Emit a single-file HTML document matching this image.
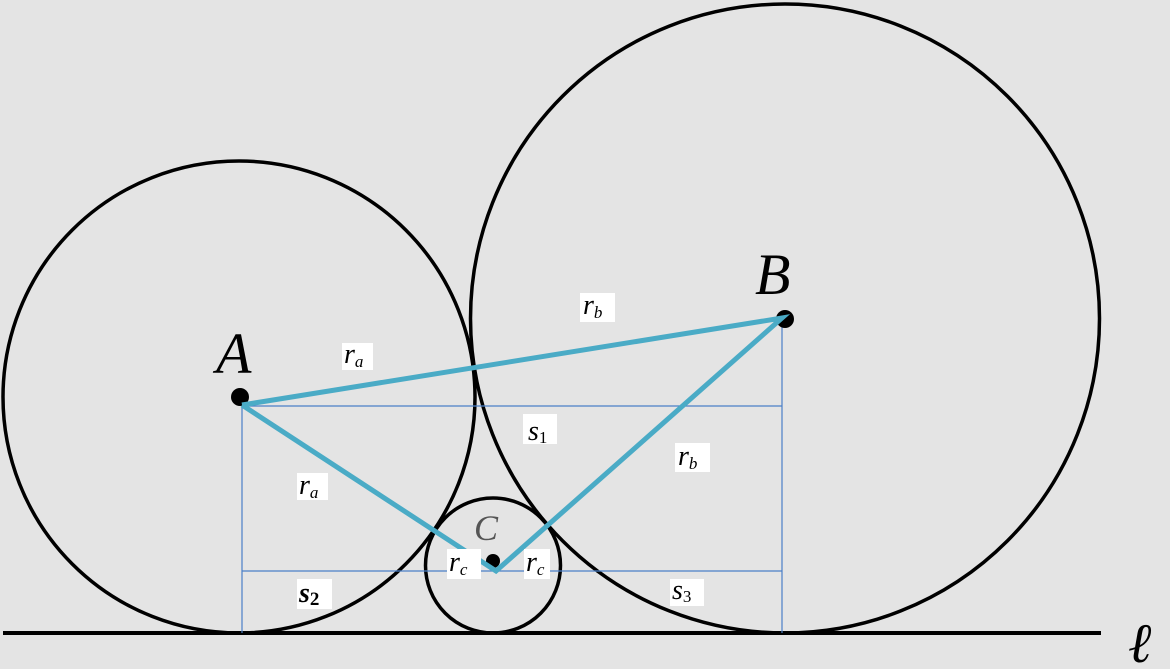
<!DOCTYPE html>
<html><head><meta charset="utf-8"><style>
html,body{margin:0;padding:0;background:#e4e4e4;}
svg{display:block;}
.lb{font-family:"Liberation Serif",serif;font-style:italic;fill:#000;}
</style></head><body>
<svg width="1170" height="669" viewBox="0 0 1170 669" xmlns="http://www.w3.org/2000/svg">
<rect width="1170" height="669" fill="#e4e4e4"/>
<g fill="none" stroke="#000" stroke-width="3.5">
<circle cx="239" cy="397" r="236"/>
<circle cx="785" cy="318.5" r="314.5"/>
<circle cx="493" cy="565.5" r="67.5"/>
</g>
<line x1="3" y1="633" x2="1101" y2="633" stroke="#000" stroke-width="4"/>
<g stroke="#4a7fc8" stroke-width="1.2">
<line x1="242" y1="406" x2="782" y2="406"/>
<line x1="242" y1="571" x2="782" y2="571"/>
<line x1="242" y1="406" x2="242" y2="633"/>
<line x1="782" y1="318" x2="782" y2="633"/>
</g>
<circle cx="240" cy="397" r="9" fill="#000"/>
<circle cx="785" cy="319" r="9" fill="#000"/>
<circle cx="493" cy="561" r="7" fill="#000"/>
<polyline points="242,405 782,318 496,571 242,405" fill="none" stroke="#4aabc6" stroke-width="5" stroke-linejoin="miter"/>
<g fill="#fff">
<rect x="342" y="343" width="31" height="27"/>
<rect x="580" y="293" width="35" height="29"/>
<rect x="523" y="414" width="34" height="30"/>
<rect x="675" y="443" width="35" height="29"/>
<rect x="297" y="473" width="31" height="27"/>
<rect x="447" y="549" width="34" height="30"/>
<rect x="524" y="549" width="26" height="30"/>
<rect x="297" y="579" width="35" height="30"/>
<rect x="670" y="579" width="34" height="27"/>
</g>
<text class="lb" x="216" y="373" font-size="58">A</text>
<text class="lb" x="755" y="294" font-size="58">B</text>
<text class="lb" x="474" y="540" font-size="36" style="fill:#555">C</text>
<text class="lb" x="1128" y="662" font-size="56">ℓ</text>
<g class="lb" font-size="28">
<text x="344" y="363">r<tspan font-size="17" dy="4">a</tspan></text>
<text x="583" y="314">r<tspan font-size="17" dy="4">b</tspan></text>
<text x="528" y="440">s<tspan font-size="17" dy="3" font-style="normal">1</tspan></text>
<text x="678" y="465">r<tspan font-size="17" dy="4">b</tspan></text>
<text x="299" y="494">r<tspan font-size="17" dy="4">a</tspan></text>
<text x="449" y="571">r<tspan font-size="17" dy="4">c</tspan></text>
<text x="526" y="571">r<tspan font-size="17" dy="4">c</tspan></text>
<text x="299" y="602" font-weight="bold">s<tspan font-size="19" dy="3" font-style="normal">2</tspan></text>
<text x="672" y="599">s<tspan font-size="17" dy="3" font-style="normal">3</tspan></text>
</g>
</svg>
</body></html>
